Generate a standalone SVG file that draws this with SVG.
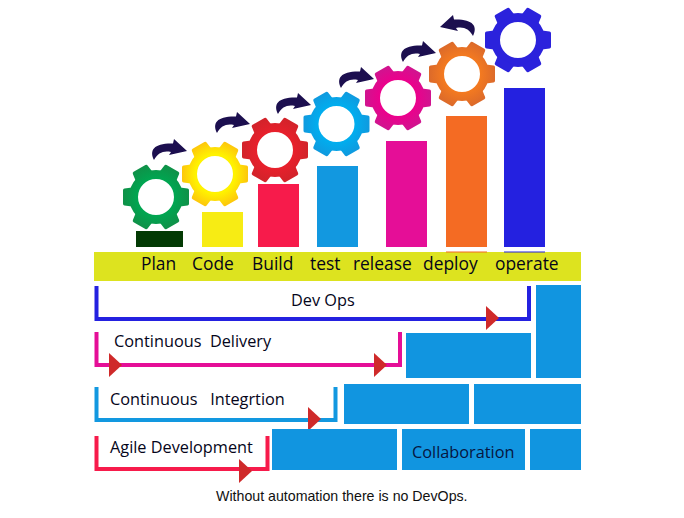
<svg xmlns="http://www.w3.org/2000/svg" width="684" height="518" viewBox="0 0 684 518">
<style>
text{font-family:"Open Sans","Noto Sans",sans-serif;fill:#05051a;white-space:pre}
.l{font-size:17.4px}
.m{font-size:16.3px}
.f{font-family:"Liberation Sans",Arial,sans-serif;font-size:14.200px;fill:#111}
.blk{fill:#1195e0}
.br{fill:none;stroke-width:4;stroke-linejoin:miter}
.tri{fill:#cf2a2a}
.arr{fill:#1c0f4f}
</style>
<defs>
<g id="gear">
<path d="M-27 0A27 27 0 1 1 27 0A27 27 0 1 1-27 0ZM-18 0A18 18 0 1 0 18 0A18 18 0 1 0-18 0Z"/>
<path id="tooth" d="M24 -9.500L31.500 -8.500Q33 -8.300 33 -6.800L33 6.800Q33 8.300 31.500 8.500L24 9.500Z"/>
<use href="#tooth" transform="rotate(60)"/>
<use href="#tooth" transform="rotate(120)"/>
<use href="#tooth" transform="rotate(180)"/>
<use href="#tooth" transform="rotate(240)"/>
<use href="#tooth" transform="rotate(300)"/>
</g>
<path id="curve" d="M0 0C-5 -10 0 -17 19 -16.500L20 -21L33 -9L15 -5L17 -8C9 -9.500 4 -7 0 0Z"/>
<radialGradient id="g1" gradientUnits="userSpaceOnUse" cx="0" cy="0" r="33"><stop offset=".55" stop-color="#00a651"/><stop offset="1" stop-color="#0f9148"/></radialGradient>
<radialGradient id="g2" gradientUnits="userSpaceOnUse" cx="0" cy="0" r="33"><stop offset=".6" stop-color="#fff200"/><stop offset="1" stop-color="#fdc70c"/></radialGradient>
<radialGradient id="g3" gradientUnits="userSpaceOnUse" cx="0" cy="0" r="33"><stop offset=".55" stop-color="#e8202c"/><stop offset="1" stop-color="#d2232a"/></radialGradient>
<radialGradient id="g4" gradientUnits="userSpaceOnUse" cx="0" cy="0" r="33"><stop offset=".55" stop-color="#00aeef"/><stop offset="1" stop-color="#0f9adf"/></radialGradient>
<radialGradient id="g5" gradientUnits="userSpaceOnUse" cx="0" cy="0" r="33"><stop offset=".55" stop-color="#ec008c"/><stop offset="1" stop-color="#d0148f"/></radialGradient>
<radialGradient id="g6" gradientUnits="userSpaceOnUse" cx="0" cy="0" r="33"><stop offset=".55" stop-color="#f47a20"/><stop offset="1" stop-color="#dc6a2a"/></radialGradient>
</defs>

<g id="bars">
<rect x="136" y="231" width="47" height="16" fill="#033a04"/>
<rect x="202" y="212" width="41" height="35" fill="#f7ec14"/>
<rect x="258" y="184" width="41" height="63" fill="#f71b4b"/>
<rect x="317" y="166" width="41" height="81" fill="#1298e0"/>
<rect x="386" y="141" width="41" height="106" fill="#e50e97"/>
<rect x="446" y="116" width="41" height="131" fill="#f46b23"/>
<rect x="504" y="88" width="41" height="159" fill="#2421e0"/>
</g>

<g id="band">
<rect x="94" y="252" width="487" height="29" fill="#dde31f"/>
<rect x="446" y="251.500" width="41" height="1" fill="#f46b23"/>
<rect x="504" y="251.500" width="41" height="1" fill="#2421e0"/>
<text class="l" x="141" y="270">Plan</text>
<text class="l" x="192" y="270">Code</text>
<text class="l" x="252" y="270">Build</text>
<text class="l" x="310" y="270">test</text>
<text class="l" x="353" y="270">release</text>
<text class="l" x="423" y="270">deploy</text>
<text class="l" x="495" y="270">operate</text>
</g>

<g id="gear-plan"><use href="#gear" transform="translate(156 197)" fill="url(#g1)"/></g>
<g id="gear-code"><use href="#gear" transform="translate(215 174)" fill="url(#g2)"/></g>
<g id="gear-build"><use href="#gear" transform="translate(275 150)" fill="url(#g3)"/></g>
<g id="gear-test"><use href="#gear" transform="translate(336.500 124)" fill="url(#g4)"/></g>
<g id="gear-release"><use href="#gear" transform="translate(398 98)" fill="url(#g5)"/></g>
<g id="gear-deploy"><use href="#gear" transform="translate(462 74)" fill="url(#g6)"/></g>
<g id="gear-operate"><use href="#gear" transform="translate(518 40)" fill="#2b22dc"/></g>

<g id="curved-arrows" class="arr">
<use href="#curve" transform="translate(154 160)"/>
<use href="#curve" transform="translate(217 133)"/>
<use href="#curve" transform="translate(278 114)"/>
<use href="#curve" transform="translate(341 88)"/>
<use href="#curve" transform="translate(403 62)"/>
<use href="#curve" transform="translate(473 36) scale(-1 1)"/>
</g>

<g id="connectors">
<path class="br" stroke="#2421e0" d="M96.500 286V319H529V286"/>
<path class="br" stroke="#e50e97" d="M96.500 332V365H400V332"/>
<path class="br" stroke="#1298e0" d="M96.500 387V420H335.500V387"/>
<path class="br" stroke="#f71b4b" d="M96.500 436V469H267.500V436"/>
<path class="tri" d="M486 306L499 318L486 330Z"/>
<path class="tri" d="M109 353L122 365L109 377Z"/>
<path class="tri" d="M374 353L387 365L374 377Z"/>
<path class="tri" d="M308 407L321 419L308 431Z"/>
<path class="tri" d="M239 459L252 471L239 483Z"/>
</g>

<g id="blocks">
<rect class="blk" x="536" y="285" width="45" height="93"/>
<rect class="blk" x="406" y="333" width="125" height="45"/>
<rect class="blk" x="344" y="384" width="125" height="40"/>
<rect class="blk" x="474" y="384" width="107" height="40"/>
<rect class="blk" x="272" y="429" width="125" height="41"/>
<rect class="blk" x="402" y="429" width="123" height="41"/>
<rect class="blk" x="530" y="429" width="51" height="41"/>
</g>

<g id="labels">
<text class="m" x="291" y="306">Dev Ops</text>
<text class="m" x="114" y="347">Continuous  Delivery</text>
<text class="m" x="110" y="405">Continuous   Integrtion</text>
<text class="m" x="110" y="453">Agile Development</text>
<text class="m" x="412" y="458" style="fill:#061640">Collaboration</text>
<text class="f" x="216" y="501">Without automation there is no DevOps.</text>
</g>
</svg>
